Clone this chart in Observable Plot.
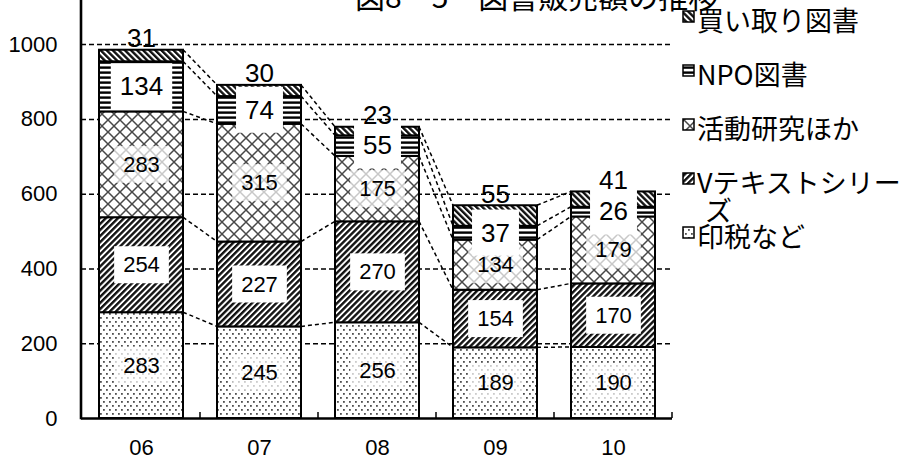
<!DOCTYPE html>
<html>
<head>
<meta charset="utf-8">
<script src="https://cdn.jsdelivr.net/npm/d3@7"></script>
<script src="https://cdn.jsdelivr.net/npm/@observablehq/plot@0.6"></script>
<style>
  body { margin: 0; background: #fff; }
  #chart { position: relative; width: 903px; height: 460px; overflow: hidden; background: #fff; }
  #chart svg { display: block; }
  #overlay { position: absolute; left: 0; top: 0; pointer-events: none; }
</style>
</head>
<body>
<div id="chart"></div>
<script>
// Book sales by category, fiscal years 06–10
const years = ["06", "07", "08", "09", "10"];
const seriesNames = ["印税など", "Vテキストシリーズ", "活動研究ほか", "NPO図書", "買い取り図書"];
const royalties = [283, 245, 256, 189, 190];
const vTextSeries = [254, 227, 270, 154, 170];
const activityResearch = [283, 315, 175, 134, 179];
const npoBooks = [134, 74, 55, 37, 26];
const purchasedBooks = [31, 30, 23, 55, 41];
const yTicks = [0, 200, 400, 600, 800, 1000];
const gridLines = [200, 400, 600, 800, 1000];
const titleText = "図8－5　図書販売額の推移";

const seriesValues = [royalties, vTextSeries, activityResearch, npoBooks, purchasedBooks];
const patternIds = ["p-dots", "p-fwd", "p-cross", "p-horiz", "p-back"];

const rows = seriesNames.flatMap((s, k) =>
  years.map((yr, i) => ({year: yr, series: s, value: seriesValues[k][i]}))
);

const numFont = "'Liberation Sans', Arial, sans-serif";
const jaFont = "'Noto Sans CJK JP', sans-serif";

// Fill patterns shared by the bars and the legend swatches
const defsSvg = d3.select("body").append("svg")
  .attr("width", 0).attr("height", 0)
  .style("position", "absolute");
const defs = defsSvg.append("defs");
function pattern(id, w, h, transform) {
  const p = defs.append("pattern").attr("id", id)
    .attr("patternUnits", "userSpaceOnUse")
    .attr("width", w).attr("height", h);
  if (transform) p.attr("patternTransform", transform);
  p.append("rect").attr("width", w).attr("height", h).attr("fill", "white");
  return p;
}
// dotted
const pd = pattern("p-dots", 6, 8);
pd.append("rect").attr("x", 1).attr("y", 1).attr("width", 1.8).attr("height", 1.8).attr("fill", "#505050");
pd.append("rect").attr("x", 4).attr("y", 5).attr("width", 1.8).attr("height", 1.8).attr("fill", "#505050");
// forward diagonal
const pf = pattern("p-fwd", 4.3, 4.3, "rotate(45)");
pf.append("rect").attr("width", 2.4).attr("height", 4.3).attr("fill", "#111");
// backward diagonal
const pb = pattern("p-back", 4.3, 4.3, "rotate(-45)");
pb.append("rect").attr("width", 2.4).attr("height", 4.3).attr("fill", "#111");
// horizontal stripes
const ph = pattern("p-horiz", 5, 5);
ph.append("rect").attr("y", 1.4).attr("width", 5).attr("height", 2.4).attr("fill", "black");
// cross hatch
const pc = pattern("p-cross", 12, 12);
pc.append("path").attr("d", "M0,0L12,12M12,0L0,12")
  .attr("stroke", "#484848").attr("stroke-width", 1.5).attr("fill", "none");

// Dashed series lines joining the layer boundaries of neighbouring bars
function seriesLines(index, scales) {
  const x = scales.x, y = scales.y;
  const bw = x.bandwidth();
  const g = d3.create("svg:g").attr("fill", "none").attr("stroke", "black")
    .attr("stroke-width", 1.5).attr("stroke-dasharray", "4,3");
  const cum = years.map((_, i) => {
    let s = 0;
    return seriesValues.map(v => (s += v[i]));
  });
  for (let k = 0; k < seriesValues.length; ++k) {
    for (let i = 0; i < years.length - 1; ++i) {
      g.append("line")
        .attr("x1", x(years[i]) + bw).attr("y1", y(cum[i][k]))
        .attr("x2", x(years[i + 1])).attr("y2", y(cum[i + 1][k]));
    }
  }
  return g.node();
}
// Vertical axis line and the category boundary ticks
function axisFrame(index, scales, values, dims) {
  const x = scales.x, y = scales.y;
  const bw = x.bandwidth(), step = x.step();
  const gap = (step - bw) / 2;
  const g = d3.create("svg:g").attr("stroke", "black");
  g.append("line")
    .attr("x1", dims.marginLeft).attr("x2", dims.marginLeft)
    .attr("y1", 0).attr("y2", y(0) + 1.3)
    .attr("stroke-width", 2.6);
  years.forEach(yr => {
    const bx = x(yr) + bw + gap;
    g.append("line").attr("x1", bx).attr("x2", bx)
      .attr("y1", y(0)).attr("y2", y(0) - 6).attr("stroke-width", 1.5);
  });
  return g.node();
}

const isSeries = name => d => d.series === name ? d.value : null;
const inMiddle = d => seriesNames.indexOf(d.series) < 3 ? d.value : null;

const chart = Plot.plot({
  width: 903,
  height: 460,
  marginLeft: 81,
  marginRight: 231,
  marginTop: 0,
  marginBottom: 42,
  style: {fontFamily: numFont, fontSize: "22px", color: "black", background: "white", overflow: "visible"},
  x: {domain: years, paddingInner: 0.29, paddingOuter: 0.145, label: null},
  y: {domain: [0, 1118], label: null},
  color: {type: "ordinal", domain: seriesNames, range: patternIds.map(id => `url(#${id})`)},
  marks: [
    Plot.ruleY(gridLines, {stroke: "black", strokeWidth: 1.5, strokeDasharray: "5,3"}),
    seriesLines,
    Plot.barY(rows, {x: "year", y: "value", z: "series", fill: "series", stroke: "black", strokeWidth: 2}),
    Plot.ruleY([0], {stroke: "black", strokeWidth: 2.6}),
    axisFrame,
    Plot.axisY({ticks: yTicks, tickFormat: d => `${d}`, tickSize: 0, tickPadding: 24, fontSize: 22, label: null}),
    Plot.axisX({tickSize: 0, tickPadding: 21, fontSize: 22, label: null}),
    Plot.text(rows, Plot.stackY({x: "year", y: "value", z: "series", text: inMiddle, fontSize: 22, fill: "black"})),
    Plot.text(rows, Plot.stackY({x: "year", y: "value", z: "series", text: isSeries("NPO図書"), fontSize: 26, fill: "black"})),
    Plot.text(rows, Plot.stackY2({x: "year", y: "value", z: "series", text: isSeries("買い取り図書"), fontSize: 26, fill: "black", lineAnchor: "bottom", dy: -3}))
  ]
});

const container = document.getElementById("chart");
container.append(chart);

// White boxes behind the value labels; the dotted and cross-hatched
// layers keep a faint pattern showing through theirs
const labelGroups = chart.querySelectorAll('g[aria-label="text"]');
const middleRows = rows.filter(d => inMiddle(d) != null);
const boxStyles = [
  {padX: 9, padY: 6},
  {padX: 9, padY: 8},
  null
];
labelGroups.forEach((grp, gi) => {
  const style = boxStyles[gi];
  if (!style) return;
  Array.from(grp.querySelectorAll("text")).forEach((t, i) => {
    const bb = t.getBBox();
    const rect = document.createElementNS("http://www.w3.org/2000/svg", "rect");
    rect.setAttribute("x", bb.x - style.padX);
    rect.setAttribute("y", bb.y - style.padY);
    rect.setAttribute("width", bb.width + 2 * style.padX);
    rect.setAttribute("height", bb.height + 2 * style.padY);
    rect.setAttribute("fill", "white");
    if (gi === 0) {
      const d = middleRows[i];
      if (d && d.series !== seriesNames[1]) rect.setAttribute("fill-opacity", 0.7);
    }
    if (t.getAttribute("transform")) rect.setAttribute("transform", t.getAttribute("transform"));
    t.parentNode.insertBefore(rect, t);
  });
});

// Title and legend drawn on top
const overlay = d3.select(container).append("svg")
  .attr("id", "overlay").attr("width", 903).attr("height", 460);
overlay.append("text")
  .attr("x", 355).attr("y", 8)
  .attr("font-family", jaFont).attr("font-size", 30).attr("fill", "black")
  .text(titleText);

const legend = overlay.append("g").attr("font-family", jaFont).attr("font-size", 27).attr("fill", "black");
const legendOrder = seriesNames.map((s, k) => ({name: s, pat: patternIds[k]})).reverse();
const textX = 697;
const maxTextWidth = 206;
legendOrder.forEach((item, j) => {
  const base = 31 + j * 54;
  legend.append("rect")
    .attr("x", 683).attr("y", base - 20).attr("width", 11).attr("height", 11)
    .attr("fill", `url(#${item.pat})`).attr("stroke", "black").attr("stroke-width", 1.5);
  const t = legend.append("text").attr("x", textX).attr("y", base);
  // wrap the entry when it runs past the right edge
  let line = "", lines = [];
  const probe = legend.append("text").attr("visibility", "hidden");
  for (const ch of item.name) {
    probe.text(line + ch);
    if (probe.node().getComputedTextLength() > maxTextWidth && line) { lines.push(line); line = ch; }
    else line += ch;
  }
  lines.push(line);
  probe.remove();
  lines.forEach((ln, li) => {
    t.append("tspan").attr("x", li === 0 ? textX : textX + 8).attr("dy", li === 0 ? 0 : 28).text(ln);
  });
});
</script>
</body>
</html>
